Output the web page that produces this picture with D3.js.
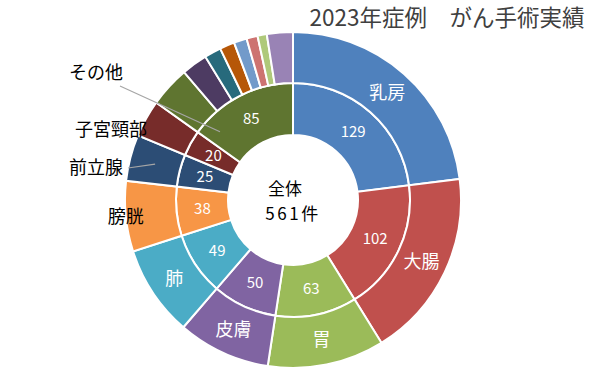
<!DOCTYPE html>
<html>
<head>
<meta charset="utf-8">
<script src="https://cdn.jsdelivr.net/npm/d3@7"></script>
<style>
  body { margin: 0; background: #fff; }
  svg text { font-family: "Noto Sans CJK JP", "Noto Sans", sans-serif; }
</style>
</head>
<body>
<div id="chart"></div>
<script>
// data
var categories = ["乳房", "大腸", "胃", "皮膚", "肺", "膀胱", "前立腺", "子宮頸部", "その他"];
var counts = [129, 102, 63, 50, 49, 38, 25, 20, 85];
// outer ring: "その他" split into smaller groups
var otherParts = [22, 14, 9, 8, 7, 6, 5, 14];
var mainColors = ["#4F81BD", "#C0504D", "#9BBB59", "#8064A2", "#4BACC6", "#F79646", "#2C4D75", "#772C2A", "#5F7530"];
var otherColors = ["#5F7530", "#4D3B62", "#276A7C", "#B65708", "#729ACA", "#CD7371", "#AFC97A", "#9983B5"];
var titleText = "2023年症例　がん手術実績";
var centerLines = ["全体", "561件"];

var width = 603, height = 378;
var cx = 293, cy = 200;
var rHole = 65, rMid = 117, rOuter = 168;

var svg = d3.select("#chart").append("svg")
    .attr("width", width)
    .attr("height", height);

// title
svg.append("text")
    .attr("x", 447)
    .attr("y", 18)
    .attr("dy", "0.35em")
    .style("text-anchor", "middle")
    .style("font-size", "22.5px")
    .style("fill", "#404040")
    .text(titleText);

var g = svg.append("g")
    .attr("transform", "translate(" + cx + "," + cy + ")");

var pie = d3.pie().sort(null).value(function (d) { return d; });

var innerArc = d3.arc().innerRadius(rHole).outerRadius(rMid);
var outerArc = d3.arc().innerRadius(rMid).outerRadius(rOuter);

var nMain = categories.length - 1;
var outerValues = counts.slice(0, nMain).concat(otherParts);
var outerColors = mainColors.slice(0, nMain).concat(otherColors);

var innerData = pie(counts);
var outerData = pie(outerValues);

// inner ring
g.selectAll(".inner")
    .data(innerData)
    .enter().append("path")
    .attr("class", "inner")
    .attr("d", innerArc)
    .attr("fill", function (d, i) { return mainColors[i]; })
    .attr("stroke", "#fff")
    .attr("stroke-width", 2);

// outer ring
g.selectAll(".outer")
    .data(outerData)
    .enter().append("path")
    .attr("class", "outer")
    .attr("d", outerArc)
    .attr("fill", function (d, i) { return outerColors[i]; })
    .attr("stroke", "#fff")
    .attr("stroke-width", 2);

// values on the inner ring
g.selectAll(".val")
    .data(innerData)
    .enter().append("text")
    .attr("class", "val")
    .attr("transform", function (d) { return "translate(" + innerArc.centroid(d) + ")"; })
    .attr("dy", "0.35em")
    .style("text-anchor", "middle")
    .style("font-size", "15px")
    .style("fill", "#fff")
    .text(function (d) { return d.data; });

// category names inside the outer ring
var insideNames = [0, 1, 2, 3, 4];
insideNames.forEach(function (i) {
    g.append("text")
        .attr("transform", "translate(" + outerArc.centroid(outerData[i]) + ")")
        .attr("dy", "0.35em")
        .style("text-anchor", "middle")
        .style("font-size", "18px")
        .style("fill", "#fff")
        .text(categories[i]);
});

// bladder: on the outer edge, black
var bl = outerData[5];
var blAng = (bl.startAngle + bl.endAngle) / 2;
g.append("text")
    .attr("x", Math.sin(blAng) * rOuter)
    .attr("y", -Math.cos(blAng) * rOuter)
    .attr("dy", "0.35em")
    .style("text-anchor", "middle")
    .style("font-size", "18px")
    .style("fill", "#000")
    .text(categories[5]);

// labels outside with leader lines
function polar(a, r) { return [Math.sin(a) * r, -Math.cos(a) * r]; }

// 前立腺
var pr = outerData[6];
var prEnd = outerArc.centroid(pr);
var prText = [-170, -32];
g.append("line")
    .attr("x1", prText[0] + 5).attr("y1", prText[1])
    .attr("x2", prEnd[0]).attr("y2", prEnd[1])
    .attr("stroke", "#A6A6A6").attr("stroke-width", 1.2);
g.append("text")
    .attr("x", prText[0])
    .attr("y", prText[1])
    .attr("dy", "0.35em")
    .style("text-anchor", "end")
    .style("font-size", "18px")
    .text(categories[6]);

// 子宮頸部
g.append("text")
    .attr("x", -182)
    .attr("y", -70)
    .attr("dy", "0.35em")
    .style("text-anchor", "middle")
    .style("font-size", "18px")
    .text(categories[7]);

// その他
var ot = innerData[8];
var otEnd = polar(ot.startAngle + (ot.endAngle - ot.startAngle) * 0.14, rMid - 17);
g.append("line")
    .attr("x1", -173).attr("y1", -114)
    .attr("x2", otEnd[0]).attr("y2", otEnd[1])
    .attr("stroke", "#A6A6A6").attr("stroke-width", 1.2);
g.append("text")
    .attr("x", -197)
    .attr("y", -127)
    .attr("dy", "0.35em")
    .style("text-anchor", "middle")
    .style("font-size", "18px")
    .text(categories[8]);

// center text
g.append("text")
    .attr("x", -8)
    .attr("y", -11)
    .attr("dy", "0.35em")
    .style("text-anchor", "middle")
    .style("font-size", "17px")
    .text(centerLines[0]);
g.append("text")
    .attr("x", 0)
    .attr("y", 14)
    .attr("dy", "0.35em")
    .style("text-anchor", "middle")
    .style("font-size", "17px")
    .style("letter-spacing", "2.5px")
    .text(centerLines[1]);
</script>
</body>
</html>
